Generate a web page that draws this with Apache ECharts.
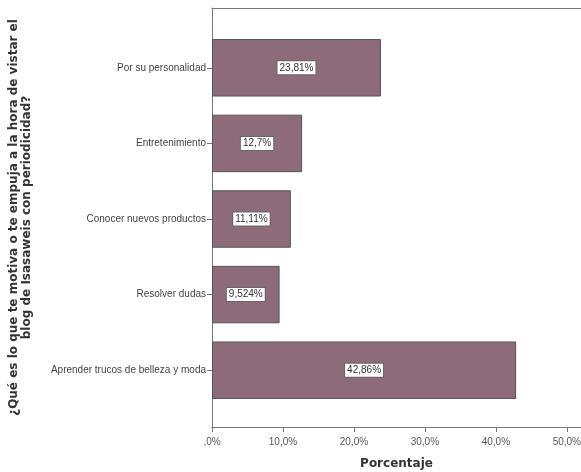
<!DOCTYPE html>
<html><head><meta charset="utf-8">
<script src="https://cdn.jsdelivr.net/npm/echarts@6/dist/echarts.min.js"></script>
<style>html,body{margin:0;padding:0;background:#fff}#c{width:581px;height:472px}</style>
</head><body><div id="c"></div>
<script>
const categories = ["Por su personalidad","Entretenimiento","Conocer nuevos productos","Resolver dudas","Aprender trucos de belleza y moda"];
const values = [23.81, 12.70, 11.11, 9.524, 42.86];
const valueLabels = ["23,81%","12,7%","11,11%","9,524%","42,86%"];
const xTickLabels = {0:",0%",10:"10,0%",20:"20,0%",30:"30,0%",40:"40,0%",50:"50,0%"};
const yTitle = "¿Qué es lo que te motiva o te empuja a la hora de vistar el\nblog de Isasaweis con periodicidad?";
const xTitle = "Porcentaje";

const chart = echarts.init(document.getElementById('c'), null, {renderer:'canvas'});
const axisColor = '#777';
chart.setOption({
  animation:false,
  grid:[
    {left:212, right:0, top:8, bottom:45, outerBoundsMode:'none', containLabel:false},
    {left:212, right:0, top:30, bottom:64, outerBoundsMode:'none', containLabel:false}
  ],
  xAxis:[
    {gridIndex:0, type:'value', min:0, max:52, interval:10, position:'bottom',
     axisLine:{show:true, lineStyle:{color:axisColor}},
     axisTick:{show:true, length:5, lineStyle:{color:axisColor}},
     splitLine:{show:false},
     axisLabel:{showMaxLabel:false, color:'#555', fontFamily:'Liberation Sans', fontSize:10, margin:10,
       formatter:v=>xTickLabels[v] !== undefined ? xTickLabels[v] : ''},
     name:xTitle, nameLocation:'middle', nameGap:31,
     nameTextStyle:{fontFamily:'DejaVu Sans', fontWeight:'bold', fontSize:12, color:'#333'}},
    {gridIndex:0, type:'value', min:0, max:52, position:'top',
     axisLine:{show:true, lineStyle:{color:axisColor}}, axisTick:{show:false}, axisLabel:{show:false}, splitLine:{show:false}},
    {gridIndex:1, type:'value', min:0, max:52, show:false}
  ],
  yAxis:[
    {gridIndex:0, type:'category', data:categories, inverse:true,
     axisLine:{show:true, lineStyle:{color:axisColor}}, axisTick:{show:false}, axisLabel:{show:false},
     name:yTitle, nameLocation:'middle', nameRotate:90, nameGap:179,
     nameTextStyle:{fontFamily:'DejaVu Sans', fontWeight:'bold', fontSize:12, color:'#333', lineHeight:13, align:'center'}},
    {gridIndex:1, type:'category', data:categories, inverse:true,
     axisLine:{show:false}, axisTick:{show:true, alignWithLabel:true, length:5, lineStyle:{color:axisColor}},
     axisLabel:{color:'#444', fontFamily:'Liberation Sans', fontSize:10, margin:6}}
  ],
  series:[{
    type:'bar', xAxisIndex:2, yAxisIndex:1, data:values, barCategoryGap:'24%',
    itemStyle:{color:'#8e6b7b', borderColor:'#555', borderWidth:1},
    label:{show:true, position:'inside', formatter:p=>valueLabels[p.dataIndex],
      color:'#333', fontFamily:'Liberation Sans', fontSize:10, backgroundColor:'#fff',
      borderColor:'#666', borderWidth:1, padding:[2,2,1,2]}
  }]
});
</script></body></html>
